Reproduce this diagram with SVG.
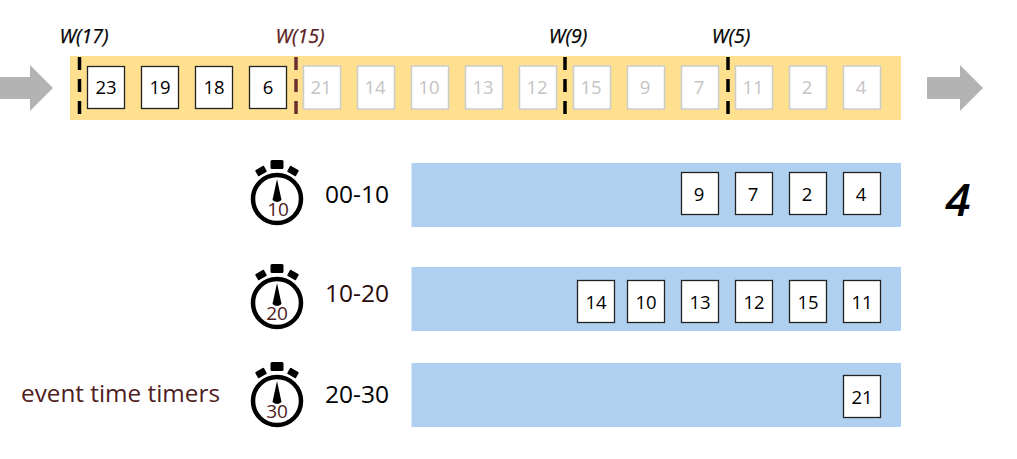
<svg xmlns="http://www.w3.org/2000/svg" width="1017" height="459" viewBox="0 0 1017 459">
<style>
text{font-family:"Open Sans","Noto Sans",sans-serif;fill:#000}
.b{fill:#fff;stroke:#222;stroke-width:1.3}
.g{fill:#fff;stroke:#ccc;stroke-width:1.5}
.n{font-size:18.500px;text-anchor:middle}
.gt{fill:#c4c4c4}
.w{font-size:19.500px;font-style:italic;text-anchor:middle;stroke:#000;stroke-width:.25}
.r{font-size:24.500px;text-anchor:middle}
.d{stroke:#000;stroke-width:3.5;stroke-dasharray:13 9;fill:none}
.t{font-size:19px;text-anchor:middle;fill:#4f2020}
.br{fill:#b0d0f0}
.ar{fill:#b3b3b3}
</style>
<defs>
<g id="clock">
<circle cx="0" cy="0" r="24" fill="#fff" stroke="#000" stroke-width="4.500"/>
<rect x="-6.500" y="-39" width="13" height="9" rx="1.500" fill="#000"/>
<rect x="-5" y="-3.500" width="10" height="7" rx="1" fill="#000" transform="translate(-16,-28) rotate(-30)"/>
<rect x="-5" y="-3.500" width="10" height="7" rx="1" fill="#000" transform="translate(16,-28) rotate(30)"/>
<path d="M0-20 L4.500 1 Q0 5-4.500 1Z" fill="#000"/>
</g>
</defs>
<g id="stream">
<rect x="70" y="56" width="831" height="64" fill="#fee08f"/>
<path class="ar" d="M0 77H30V65L53 88L30 111V99H0Z"/>
<path class="ar" d="M927 77H960V65L983 88L960 111V99H927Z"/>
</g>
<g id="connectors">
<path class="d" d="M79.500 57V122"/>
<path class="d" d="M296 57V122" style="stroke:#6c2f2f"/>
<path class="d" d="M565 57V122"/>
<path class="d" d="M728 57V122"/>
</g>
<g id="watermarks">
<text class="w" x="84" y="43">W(17)</text>
<text class="w" x="300" y="43" style="fill:#5a2020;stroke:#5a2020">W(15)</text>
<text class="w" x="568" y="43">W(9)</text>
<text class="w" x="731" y="43">W(5)</text>
</g>
<g id="events-active">
<rect class="b" x="87.500" y="66.500" width="37" height="42"/><text class="n" x="106" y="94">23</text>
<rect class="b" x="141.500" y="66.500" width="37" height="42"/><text class="n" x="160" y="94">19</text>
<rect class="b" x="195.500" y="66.500" width="37" height="42"/><text class="n" x="214" y="94">18</text>
<rect class="b" x="249.500" y="66.500" width="37" height="42"/><text class="n" x="268" y="94">6</text>
</g>
<g id="events-faded">
<rect class="g" x="303.500" y="66" width="37" height="43"/><text class="n gt" x="321" y="94">21</text>
<rect class="g" x="357.500" y="66" width="37" height="43"/><text class="n gt" x="375" y="94">14</text>
<rect class="g" x="411.500" y="66" width="37" height="43"/><text class="n gt" x="429" y="94">10</text>
<rect class="g" x="465.500" y="66" width="37" height="43"/><text class="n gt" x="483" y="94">13</text>
<rect class="g" x="519.500" y="66" width="37" height="43"/><text class="n gt" x="537" y="94">12</text>
<rect class="g" x="573.500" y="66" width="37" height="43"/><text class="n gt" x="591" y="94">15</text>
<rect class="g" x="627.500" y="66" width="37" height="43"/><text class="n gt" x="645" y="94">9</text>
<rect class="g" x="681.500" y="66" width="37" height="43"/><text class="n gt" x="699" y="94">7</text>
<rect class="g" x="735.500" y="66" width="37" height="43"/><text class="n gt" x="753" y="94">11</text>
<rect class="g" x="789.500" y="66" width="37" height="43"/><text class="n gt" x="807" y="94">2</text>
<rect class="g" x="843.500" y="66" width="37" height="43"/><text class="n gt" x="861" y="94">4</text>
</g>
<g id="timer-00-10">
<use href="#clock" x="277" y="199"/>
<text class="t" x="278" y="216">10</text>
<text class="r" x="357" y="203">00-10</text>
<rect class="br" x="411.500" y="163" width="489.500" height="64"/>
<rect class="b" x="681.500" y="172.500" width="37" height="42"/><text class="n" x="699" y="201">9</text>
<rect class="b" x="735.500" y="172.500" width="37" height="42"/><text class="n" x="753" y="201">7</text>
<rect class="b" x="789.500" y="172.500" width="37" height="42"/><text class="n" x="807" y="201">2</text>
<rect class="b" x="843.500" y="172.500" width="37" height="42"/><text class="n" x="861" y="201">4</text>
</g>
<g id="timer-10-20">
<use href="#clock" x="277" y="303"/>
<text class="t" x="277" y="320">20</text>
<text class="r" x="357" y="302" style="fill:#2a0a0a">10-20</text>
<rect class="br" x="411.500" y="267" width="489.500" height="64"/>
<rect class="b" x="577.500" y="280.500" width="37" height="42"/><text class="n" x="596" y="309">14</text>
<rect class="b" x="627.500" y="280.500" width="37" height="42"/><text class="n" x="646" y="309">10</text>
<rect class="b" x="681.500" y="280.500" width="37" height="42"/><text class="n" x="700" y="309">13</text>
<rect class="b" x="735.500" y="280.500" width="37" height="42"/><text class="n" x="754" y="309">12</text>
<rect class="b" x="789.500" y="280.500" width="37" height="42"/><text class="n" x="808" y="309">15</text>
<rect class="b" x="843.500" y="280.500" width="37" height="42"/><text class="n" x="862" y="309">11</text>
</g>
<g id="timer-20-30">
<use href="#clock" x="277" y="401"/>
<text class="t" x="277" y="418">30</text>
<text class="r" x="357" y="403">20-30</text>
<rect class="br" x="411.500" y="363" width="489.500" height="64"/>
<rect class="b" x="843.500" y="375.500" width="37" height="42"/><text class="n" x="862" y="404">21</text>
</g>
<g id="label"><text x="21" y="402" font-size="24.300" style="fill:#4f2020">event time timers</text></g>
<g id="count"><text x="958" y="216" font-size="46" font-style="italic" font-weight="600" text-anchor="middle">4</text></g>
</svg>
